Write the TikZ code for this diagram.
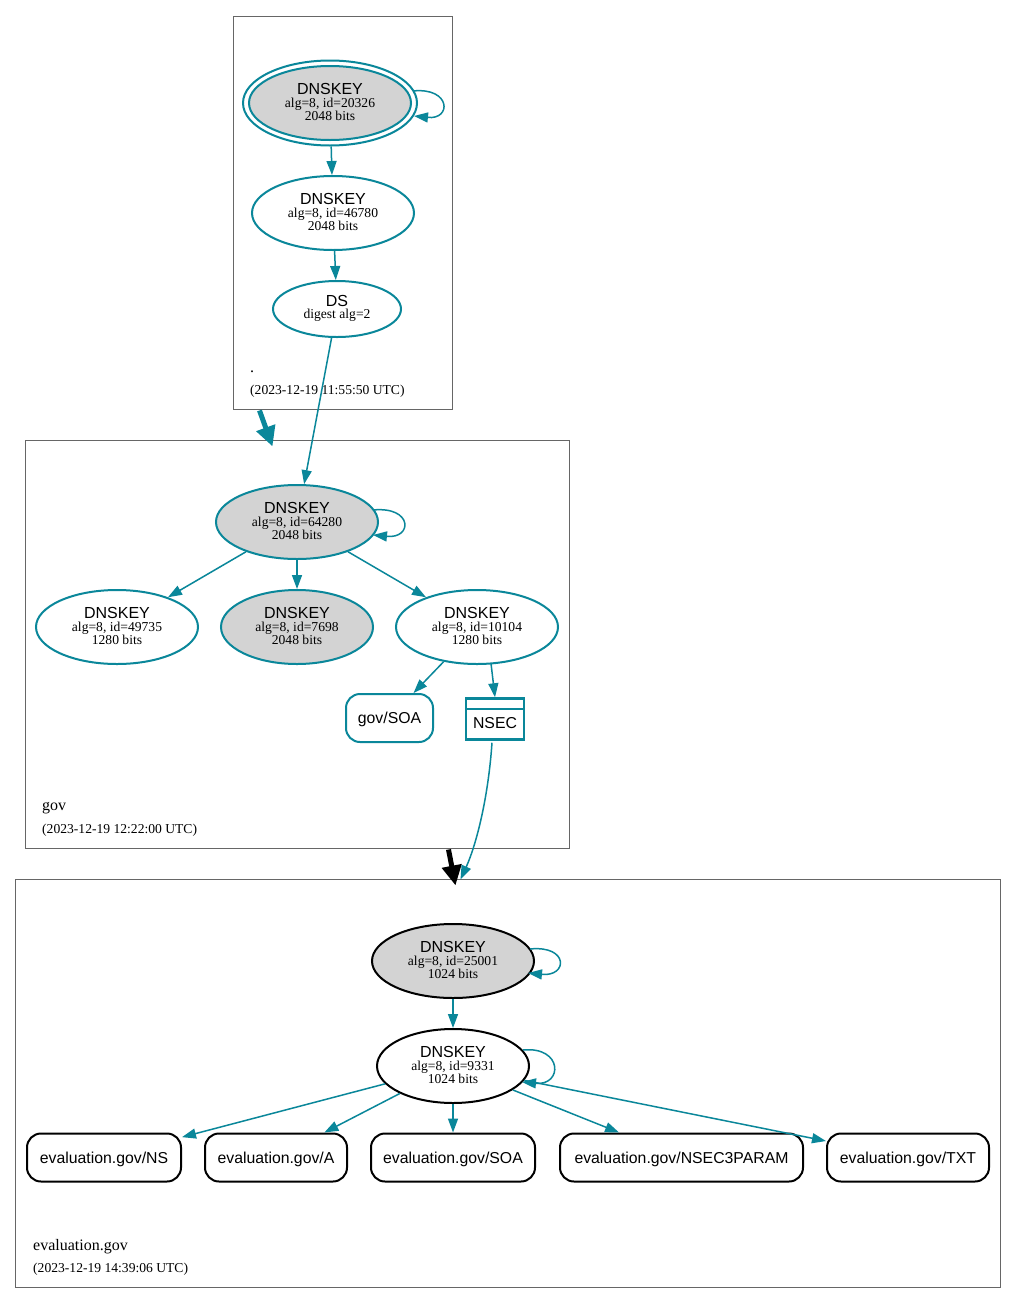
\documentclass[tikz,border=0pt]{standalone}
\usepackage{fontspec}
\setmainfont{Liberation Serif}
\setsansfont{Liberation Sans}
\usetikzlibrary{arrows.meta,calc,shapes.geometric}
\definecolor{dnsteal}{HTML}{0A879A}
\definecolor{keygray}{HTML}{D3D3D3}
\newcommand\kt[4]{%
  \node[bigtext,anchor=base] (#1-a) at ($(#1)+(0,-8.5)$) {#2};
  \node[smalltext,anchor=base] (#1-b) at ($(#1)+(0,4.5)$) {#3};
  \node[smalltext,anchor=base] (#1-c) at ($(#1)+(0,17.5)$) {#4};}
\begin{document}
\begin{tikzpicture}[x=1pt,y=-1pt,
  bigtext/.style={font=\sffamily\fontsize{16}{19}\selectfont, inner sep=0pt},
  smalltext/.style={font=\fontsize{13.6}{16}\selectfont, inner sep=0pt},
  zonename/.style={font=\fontsize{16}{19}\selectfont, inner sep=0pt, anchor=base west},
  zonedate/.style={font=\fontsize{13.6}{16}\selectfont, inner sep=0pt, anchor=base west},
  cluster/.style={rectangle, draw=black!60, line width=1pt, inner sep=0pt},
  keyE/.style={ellipse, draw=dnsteal, line width=2pt, inner sep=0pt, fill=white},
  rrbox/.style={rectangle, rounded corners=14pt, draw=black, line width=2pt, inner sep=0pt,
     font=\sffamily\fontsize{15.8}{18}\selectfont, minimum height=48pt, text height=15pt, text depth=3pt},
  edge/.style={draw=dnsteal, line width=1.5pt, -{Triangle[length=14pt,width=10pt]}},
  bigedge/.style={line width=5pt, -{Triangle[length=20pt,width=19pt]}}
]
\useasboundingbox[fill=white] (0,0) rectangle (1016,1304);

% clusters
\node[cluster, minimum width=219pt, minimum height=393pt] (zroot) at (342.5,212.5) {};
\node[cluster, minimum width=544pt, minimum height=408pt] (zgov) at (297,644) {};
\node[cluster, minimum width=985pt, minimum height=408pt] (zeval) at (507.5,1083) {};

\node[zonename] (lroot) at (250,372) {.};
\node[zonedate] (droot) at (250,394) {(2023-12-19 11:55:50 UTC)};
\node[zonename] (lgov) at (42,810) {gov};
\node[zonedate] (dgov) at (42,833) {(2023-12-19 12:22:00 UTC)};
\node[zonename] (leval) at (33,1250) {evaluation.gov};
\node[zonedate] (deval) at (33,1272) {(2023-12-19 14:39:06 UTC)};

% root zone
\node[keyE, minimum width=174pt, minimum height=85pt] (r1) at (330,103) {};
\draw[draw=dnsteal, line width=2pt, fill=keygray] (r1.center) ellipse [x radius=81, y radius=37];
\kt{r1}{DNSKEY}{alg=8, id=20326}{2048 bits}
\node[keyE, minimum width=162pt, minimum height=74pt] (r2) at (333,213) {};
\kt{r2}{DNSKEY}{alg=8, id=46780}{2048 bits}
\node[keyE, minimum width=128pt, minimum height=56pt] (ds) at (337,309) {};
\node[bigtext,anchor=base] (ds-a) at ($(ds)+(0,-3)$) {DS};
\node[smalltext,anchor=base] (ds-b) at ($(ds)+(0,9.5)$) {digest alg=2};

\draw[edge] ($(r1)+(83,-12)$) .. controls ($(r1)+(121,-16)$) and ($(r1)+(122,17)$) .. ($(r1)+(84,13)$);
\draw[edge] (r1) -- (r2);
\draw[edge] (r2) -- (ds);

% gov zone
\node[keyE, fill=keygray, minimum width=162pt, minimum height=74pt] (g1) at (297,522) {};
\kt{g1}{DNSKEY}{alg=8, id=64280}{2048 bits}
\node[keyE, minimum width=162pt, minimum height=74pt] (g2) at (117,627) {};
\kt{g2}{DNSKEY}{alg=8, id=49735}{1280 bits}
\node[keyE, fill=keygray, minimum width=152pt, minimum height=74pt] (g3) at (297,627) {};
\kt{g3}{DNSKEY}{alg=8, id=7698}{2048 bits}
\node[keyE, minimum width=162pt, minimum height=74pt] (g4) at (477,627) {};
\kt{g4}{DNSKEY}{alg=8, id=10104}{1280 bits}
\node[rrbox, draw=dnsteal, minimum width=87pt, text height=14.7pt, text depth=4.7pt] (gsoa) at (389.5,718) {gov/SOA};
\node[rectangle, draw=dnsteal, line width=2.5pt, inner sep=0pt, minimum width=58pt, minimum height=41pt,
  font=\sffamily\fontsize{15.8}{18}\selectfont, text height=18pt, text depth=0pt] (nsec) at (495,719) {NSEC};
\draw[draw=dnsteal, line width=2.5pt] ($(nsec.north west)+(0,11.5)$) -- ($(nsec.north east)+(0,11.5)$);

\draw[edge] (ds) -- (g1);
\draw[edge] ($(g1)+(76,-12)$) .. controls ($(g1)+(116,-16)$) and ($(g1)+(116,17)$) .. ($(g1)+(76,13)$);
\draw[edge] (g1) -- (g2);
\draw[edge] (g1) -- (g3);
\draw[edge] (g1) -- (g4);
\draw[edge] (g4) -- (gsoa);
\draw[edge] ($(g4)+(14,36.4)$) -- (nsec.north);

% evaluation.gov zone
\node[keyE, draw=black, fill=keygray, minimum width=162pt, minimum height=74pt] (e1) at (453,961) {};
\kt{e1}{DNSKEY}{alg=8, id=25001}{1024 bits}
\node[keyE, draw=black, minimum width=152pt, minimum height=74pt] (e2) at (453,1066) {};
\kt{e2}{DNSKEY}{alg=8, id=9331}{1024 bits}

\node[rrbox, minimum width=154pt] (ns) at (104,1157.5) {evaluation.gov/NS};
\node[rrbox, minimum width=142pt] (ra) at (276,1157.5) {evaluation.gov/A};
\node[rrbox, minimum width=164pt] (soa) at (453,1157.5) {evaluation.gov/SOA};
\node[rrbox, minimum width=243pt] (n3p) at (681.5,1157.5) {evaluation.gov/NSEC3PARAM};
\node[rrbox, minimum width=162pt] (txt) at (908,1157.5) {evaluation.gov/TXT};

\draw[edge] ($(e1)+(77,-12)$) .. controls ($(e1)+(116,-16)$) and ($(e1)+(115,16)$) .. ($(e1)+(75,12)$);
\draw[edge] (e1) -- (e2);
\draw[edge] ($(e2)+(70,-16)$) .. controls ($(e2)+(110,-20)$) and ($(e2)+(110,20)$) .. ($(e2)+(69,16)$);
\draw[edge] (e2) -- (ns);
\draw[edge] (e2) -- (ra);
\draw[edge] (e2) -- (soa);
\draw[edge] (e2) -- (n3p);
\draw[edge] (e2) -- (txt);

% inter-zone connectors
\draw[bigedge, draw=dnsteal, fill=dnsteal] ($(zroot.south west)+(27,1)$) -- ($(zgov.north west)+(248,7)$);
\draw[bigedge, draw=black, fill=black] ($(zgov.south west)+(424,1)$) -- ($(zeval.north west)+(441,7)$);
\draw[edge] ($(nsec.south)+(-3,2)$) .. controls ($(nsec.south)+(-7,60)$) and ($(zeval.north west)+(461,-32)$) .. ($(zeval.north west)+(446,1)$);
\end{tikzpicture}
\end{document}
